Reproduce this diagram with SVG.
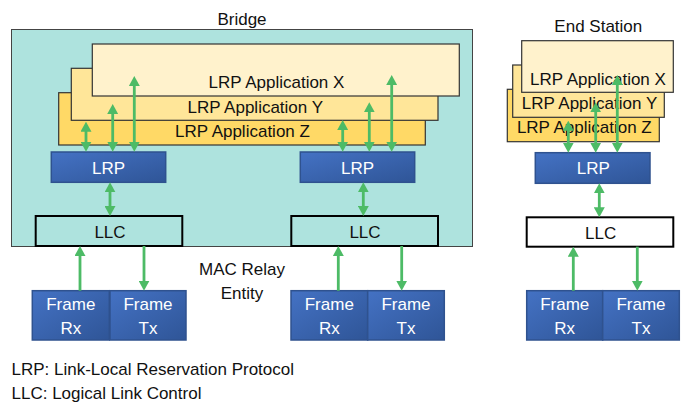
<svg xmlns="http://www.w3.org/2000/svg" width="683" height="403" viewBox="0 0 683 403">
<style>
text{font-family:"Liberation Sans",Arial,sans-serif;font-size:17px;fill:#111;text-anchor:middle}
.w{fill:#fff}
.lft{text-anchor:start}
.appx{fill:#FFF2CC;stroke:#333;stroke-width:1.2}
.appy{fill:#FFE699;stroke:#333;stroke-width:1.2}
.appz{fill:#FFD966;stroke:#333;stroke-width:1.2}
.blue{fill:url(#bg);stroke:#2F528F;stroke-width:1.5}
.llc{stroke:#000;stroke-width:2}
.arr{stroke:#4DBB66;stroke-width:2.8;fill:none}
.bi{marker-start:url(#ah);marker-end:url(#ah)}
.one{marker-end:url(#ah)}
</style>
<defs>
<linearGradient id="bg" x1="0" y1="0" x2="1" y2="1">
<stop offset="0" stop-color="#4472C4"/>
<stop offset="1" stop-color="#2F5597"/>
</linearGradient>
<marker id="ah" viewBox="0 0 10 11" refX="5.5" refY="5.5" markerWidth="10" markerHeight="11" markerUnits="userSpaceOnUse" orient="auto-start-reverse">
<path d="M0,0 L10,5.5 L0,11 z" fill="#4DBB66"/>
</marker>
</defs>

<g id="bridge">
<rect x="11.5" y="29.5" width="461" height="217" fill="#AEE3DE" stroke="#444" stroke-width="1"/>
<text x="242" y="25">Bridge</text>
</g>
<g id="bridge-app-z"><rect class="appz" x="58.7" y="92.7" width="366.6" height="52.3"/><text x="242.5" y="137">LRP Application Z</text></g>
<g id="bridge-app-y"><rect class="appy" x="71.3" y="68.3" width="366.7" height="52"/><text x="255.3" y="112.5">LRP Application Y</text></g>
<g id="bridge-app-x"><rect class="appx" x="92.3" y="44" width="367" height="52"/><text x="276.5" y="87.5">LRP Application X</text></g>
<g id="bridge-lrp-left"><rect class="blue" x="51.3" y="152" width="114.4" height="30.3"/><text class="w" x="108.5" y="173.5">LRP</text></g>
<g id="bridge-lrp-right"><rect class="blue" x="300.3" y="152" width="114.4" height="30.3"/><text class="w" x="357.5" y="173.5">LRP</text></g>
<g id="bridge-llc-left"><rect class="llc" x="35.7" y="216" width="146.6" height="30" fill="#AEE3DE"/><text x="110" y="238">LLC</text></g>
<g id="bridge-llc-right"><rect class="llc" x="291.3" y="216" width="146.7" height="30" fill="#AEE3DE"/><text x="365" y="238">LLC</text></g>
<g id="mac-relay"><text x="242" y="275">MAC Relay</text><text x="242" y="298.5">Entity</text></g>
<g id="left-frame-rx"><rect class="blue" x="32.3" y="290.7" width="77" height="49.3"/><text class="w" x="70.8" y="310">Frame</text><text class="w" x="70.8" y="333.5">Rx</text></g>
<g id="left-frame-tx"><rect class="blue" x="110" y="290.7" width="76" height="49.3"/><text class="w" x="148" y="310">Frame</text><text class="w" x="148" y="333.5">Tx</text></g>
<g id="right-frame-rx"><rect class="blue" x="291" y="290.7" width="76.7" height="49.3"/><text class="w" x="329.3" y="310">Frame</text><text class="w" x="329.3" y="333.5">Rx</text></g>
<g id="right-frame-tx"><rect class="blue" x="367.7" y="290.7" width="76.6" height="49.3"/><text class="w" x="406" y="310">Frame</text><text class="w" x="406" y="333.5">Tx</text></g>

<g id="end-station"><text x="598.3" y="31.7">End Station</text></g>
<g id="es-app-z"><rect class="appz" x="507.3" y="89.3" width="152" height="52.4"/><text x="584.3" y="133">LRP Application Z</text></g>
<g id="es-app-y"><rect class="appy" x="512.7" y="65" width="151.6" height="52.3"/><text x="589.5" y="108.5">LRP Application Y</text></g>
<g id="es-app-x"><rect class="appx" x="521.7" y="40.7" width="151.6" height="51.6"/><text x="598" y="85.3">LRP Application X</text></g>
<g id="es-lrp"><rect class="blue" x="535.3" y="152.7" width="114.7" height="30.6"/><text class="w" x="593.3" y="174.3">LRP</text></g>
<g id="es-llc"><rect class="llc" x="526.7" y="217.3" width="146.6" height="29.4" fill="#fff"/><text x="600.7" y="239">LLC</text></g>
<g id="es-frame-rx"><rect class="blue" x="526.7" y="290.7" width="76" height="49.3"/><text class="w" x="564.7" y="310">Frame</text><text class="w" x="564.7" y="333.5">Rx</text></g>
<g id="es-frame-tx"><rect class="blue" x="602.7" y="290.7" width="76.6" height="49.3"/><text class="w" x="641" y="310">Frame</text><text class="w" x="641" y="333.5">Tx</text></g>

<g id="legend">
<text class="lft" x="11.5" y="375">LRP: Link-Local Reservation Protocol</text>
<text class="lft" x="11.5" y="399">LLC: Logical Link Control</text>
</g>

<g id="connectors" class="arr">
<line class="bi" x1="86" y1="126.2" x2="86" y2="147.2"/>
<line class="bi" x1="112.7" y1="108.5" x2="112.7" y2="147.2"/>
<line class="bi" x1="134.3" y1="80.5" x2="134.3" y2="147.2"/>
<line class="bi" x1="342.7" y1="124.5" x2="342.7" y2="147.2"/>
<line class="bi" x1="369.3" y1="106.8" x2="369.3" y2="147.2"/>
<line class="bi" x1="391.7" y1="79.5" x2="391.7" y2="147.2"/>
<line class="bi" x1="110" y1="186.8" x2="110" y2="211.5"/>
<line class="bi" x1="363.3" y1="186.8" x2="363.3" y2="211.5"/>
<line class="one" x1="80" y1="290.7" x2="80" y2="250.5"/>
<line class="one" x1="144" y1="246" x2="144" y2="286.2"/>
<line class="one" x1="338.3" y1="290.7" x2="338.3" y2="250.5"/>
<line class="one" x1="401.7" y1="246" x2="401.7" y2="286.2"/>
<line class="bi" x1="568.3" y1="125.2" x2="568.3" y2="148.2"/>
<line class="bi" x1="595.7" y1="106.8" x2="595.7" y2="148.2"/>
<line class="bi" x1="617.3" y1="79.5" x2="617.3" y2="148.2"/>
<line class="bi" x1="599.3" y1="187.8" x2="599.3" y2="212.8"/>
<line class="one" x1="573.3" y1="290.7" x2="573.3" y2="251.2"/>
<line class="one" x1="637.3" y1="246.7" x2="637.3" y2="286.2"/>
</g>
</svg>
